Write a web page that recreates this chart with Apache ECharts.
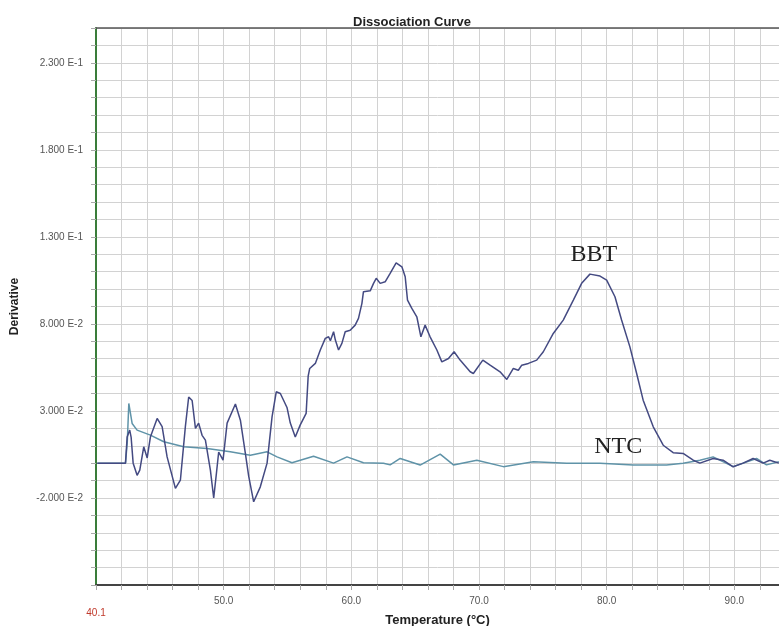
<!DOCTYPE html>
<html>
<head>
<meta charset="utf-8">
<script src="https://cdn.jsdelivr.net/npm/echarts@6/dist/echarts.min.js"></script>
<style>
html,body{margin:0;padding:0;background:#fff;}
#chart{width:779px;height:626px;}
</style>
</head>
<body>
<div id="chart"></div>
<script>
// ---- data ----
const chartTitle = 'Dissociation Curve';
const xAxisName = 'Temperature (°C)';
const yAxisName = 'Derivative';

const bbtTemp = [40.1,42.31,42.44,42.64,42.75,42.91,43.22,43.43,43.74,44.01,44.26,44.79,45.18,45.57,46.22,46.61,47.00,47.26,47.53,47.79,48.04,48.31,48.57,48.96,49.22,49.43,49.61,49.95,50.27,50.92,51.31,51.70,51.96,52.35,52.87,53.40,53.79,54.12,54.44,54.96,55.22,55.61,56.00,56.46,56.62,56.74,57.18,57.57,57.96,58.22,58.36,58.61,58.75,59.00,59.26,59.52,59.91,60.30,60.56,60.83,60.95,61.48,61.74,61.95,62.26,62.65,63.04,63.51,63.96,64.22,64.40,64.74,65.13,65.45,65.78,66.17,66.70,67.09,67.61,68.05,68.52,69.31,69.56,70.30,70.87,71.65,72.18,72.69,73.08,73.35,73.87,74.52,75.04,75.82,76.60,77.39,78.04,78.69,79.48,80.00,80.65,81.17,81.82,82.35,82.86,83.65,84.43,85.21,85.99,86.78,87.30,88.34,89.12,89.91,90.69,91.47,92.26,92.78,93.49];
const bbtValue = [0,0,0.015,0.019,0.015,0.0,-0.007,-0.004,0.0094,0.003,0.015,0.0257,0.021,0.0036,-0.0145,-0.0098,0.021,0.038,0.036,0.020,0.023,0.016,0.0132,-0.004,-0.020,-0.006,0.0064,0.0017,0.023,0.034,0.0247,0.0056,-0.0075,-0.0222,-0.0136,0.0,0.0266,0.041,0.040,0.032,0.023,0.015,0.022,0.0286,0.050,0.0544,0.0573,0.065,0.0717,0.0726,0.0703,0.0755,0.0707,0.065,0.0688,0.0755,0.0764,0.0793,0.0832,0.0918,0.0985,0.099,0.1033,0.1062,0.1033,0.1042,0.109,0.1151,0.1128,0.1071,0.0937,0.0889,0.0841,0.0726,0.0793,0.0726,0.065,0.0582,0.0601,0.064,0.0592,0.0525,0.0515,0.0592,0.0563,0.0525,0.0481,0.0544,0.0534,0.0563,0.0573,0.0592,0.064,0.0745,0.0822,0.0937,0.1033,0.1086,0.1075,0.1052,0.0956,0.0822,0.0668,0.0515,0.0362,0.0209,0.0103,0.006,0.0056,0.0017,0.0,0.0027,0.0017,-0.0021,0.0,0.0027,0.0,0.0017,0.0];

const ntcTemp = [40.1,42.31,42.45,42.57,42.83,43.22,44.26,45.31,46.87,48.70,50.52,52.09,53.40,54.18,55.35,56.00,57.04,58.61,59.66,60.95,62.52,63.04,63.83,65.39,66.96,68.00,69.83,71.91,74.26,76.87,79.48,82.08,84.69,85.99,87.30,88.34,89.91,91.74,92.52,93.49];
const ntcValue = [0,0,0.012,0.0343,0.0228,0.019,0.0161,0.0123,0.0094,0.0084,0.0065,0.0046,0.0065,0.0036,0.0002,0.0017,0.004,0.0,0.0036,0.0002,0.0,-0.001,0.0027,-0.0011,0.0052,-0.001,0.0017,-0.002,0.0008,0.0,0.0,-0.001,-0.001,0.0,0.0017,0.0036,-0.002,0.0027,-0.001,0.0008];

const xTickValues = [50, 60, 70, 80, 90];
const xTickLabels = ['50.0', '60.0', '70.0', '80.0', '90.0'];
const xStartLabel = '40.1';
const yTickValues = [-0.02, 0.03, 0.08, 0.13, 0.18, 0.23];
const yTickLabels = ['-2.000 E-2', '3.000 E-2', '8.000 E-2', '1.300 E-1', '1.800 E-1', '2.300 E-1'];

const annotationNames = ['BBT', 'NTC'];
const annotationTemps = [79.0, 80.9];
const annotationValues = [0.1195, 0.0094];

// ---- chart ----
const pair = (xs, ys) => xs.map((x, i) => [x, ys[i]]);
const near = (a, b) => Math.abs(a - b) < 1e-6;

const chart = echarts.init(document.getElementById('chart'), null, {renderer: 'canvas'});
const labelFont = {fontFamily: 'Liberation Sans, Arial, sans-serif', fontSize: 10, color: '#555'};

chart.setOption({
  animation: false,
  backgroundColor: '#fff',
  title: {
    text: chartTitle,
    left: 412, top: 16, padding: 0, textAlign: 'center',
    textStyle: {fontFamily: 'Liberation Sans, Arial, sans-serif', fontSize: 13, fontWeight: 'bold', color: '#222'}
  },
  grid: {left: 96, right: 0, top: 28, height: 557, containLabel: false, outerBoundsMode: 'none'},
  xAxis: [{
    type: 'value', min: 40, max: 93.5, interval: 2,
    name: xAxisName, nameLocation: 'middle', nameGap: 29, nameMoveOverlap: false,
    nameTextStyle: {fontFamily: 'Liberation Sans, Arial, sans-serif', fontSize: 13, fontWeight: 'bold', color: '#222'},
    axisLine: {show: true, onZero: false, lineStyle: {color: '#444', width: 2}},
    axisTick: {show: true, length: 5, lineStyle: {color: '#aaa'}},
    splitLine: {show: true, lineStyle: {color: '#d2d2d2', width: 1}},
    axisLabel: {
      show: true, margin: 11, ...labelFont, showMinLabel: true, showMaxLabel: true,
      formatter: function (v) {
        if (near(v, 40)) return '{s|' + xStartLabel + '}';
        for (let i = 0; i < xTickValues.length; i++) if (near(v, xTickValues[i])) return xTickLabels[i];
        return '';
      },
      rich: {s: {color: '#c0392b', fontSize: 10, fontFamily: 'Liberation Sans, Arial, sans-serif', padding: [12, 0, 0, 0]}}
    }
  }, {
    type: 'value', min: 40, max: 93.5, position: 'top',
    axisLine: {show: true, onZero: false, lineStyle: {color: '#555', width: 1.5}},
    axisTick: {show: false}, axisLabel: {show: false}, splitLine: {show: false}
  }],
  yAxis: {
    type: 'value', min: -0.07, max: 0.25, interval: 0.01,
    name: yAxisName, nameLocation: 'middle', nameGap: 75, nameMoveOverlap: false,
    nameTextStyle: {fontFamily: 'Liberation Sans, Arial, sans-serif', fontSize: 12, fontWeight: 'bold', color: '#222'},
    axisLine: {show: true, onZero: false, lineStyle: {color: '#3a7d3a', width: 2}},
    axisTick: {show: true, length: 5, lineStyle: {color: '#aaa'}},
    splitLine: {show: true, lineStyle: {color: '#d2d2d2', width: 1}},
    axisLabel: {
      show: true, margin: 13, ...labelFont, showMinLabel: true, showMaxLabel: true,
      formatter: function (v) {
        for (let i = 0; i < yTickValues.length; i++) if (near(v, yTickValues[i])) return yTickLabels[i];
        return '';
      }
    }
  },
  series: [{
    name: 'NTC', type: 'line', data: pair(ntcTemp, ntcValue), showSymbol: false, smooth: false,
    lineStyle: {color: '#5f93a8', width: 1.5}, z: 3,
    markPoint: {
      symbol: 'circle', symbolSize: 1, itemStyle: {color: 'rgba(0,0,0,0)'},
      label: {show: true, position: 'inside', fontFamily: 'Liberation Serif, Times New Roman, serif', fontSize: 24, color: '#222', formatter: p => p.name},
      data: [{name: annotationNames[1], coord: [annotationTemps[1], annotationValues[1]]}]
    }
  }, {
    name: 'BBT', type: 'line', data: pair(bbtTemp, bbtValue), showSymbol: false, smooth: false,
    lineStyle: {color: '#444a82', width: 1.5}, z: 4,
    markPoint: {
      symbol: 'circle', symbolSize: 1, itemStyle: {color: 'rgba(0,0,0,0)'},
      label: {show: true, position: 'inside', fontFamily: 'Liberation Serif, Times New Roman, serif', fontSize: 24, color: '#222', formatter: p => p.name},
      data: [{name: annotationNames[0], coord: [annotationTemps[0], annotationValues[0]]}]
    }
  }]
});
</script>
</body>
</html>
